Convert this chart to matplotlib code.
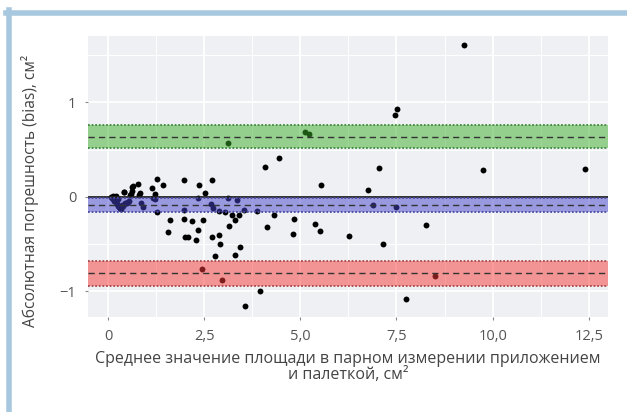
import matplotlib
matplotlib.use("Agg")
import matplotlib.pyplot as plt
from matplotlib.lines import Line2D

# mean of paired measurement (x) and bias (y)
mean_area = [
    9.25, 7.52, 7.47, 5.13, 5.22, 3.13, 4.44, 4.07, 7.05, 9.75, 12.40,
    5.55, 6.76, 6.90, 7.50, 5.37, 5.50, 6.26, 7.16, 8.28, 8.51, 7.75,
    4.84, 4.80, 4.31, 4.13, 3.87, 3.94, 3.56, 3.53, 3.42, 3.41, 3.29,
    3.30, 3.22, 3.14, 3.12, 3.36, 3.04, 2.88, 2.88, 2.90, 2.97, 2.77,
    2.70, 2.70, 2.68, 2.72, 2.52, 2.46, 2.44, 2.37, 2.34, 2.34, 2.30,
    2.18, 2.07, 2.00, 1.97, 1.97, 1.97, 1.62, 1.55, 1.44, 1.27, 1.27,
    1.23, 1.21, 1.15, 1.17, 0.92, 0.87, 0.83, 0.79, 0.80, 0.65, 0.62,
    0.57, 0.41, 0.42, 0.53, 0.48, 0.40, 0.31, 0.61, 0.63,
    0.08, 0.10, 0.12, 0.14, 0.16, 0.18, 0.20, 0.22, 0.24, 0.26, 0.28,
    0.30, 0.33, 0.35, 0.37, 0.45, 0.50, 0.55, 0.15, 0.20, 0.25,
]
bias = [
    1.60, 0.93, 0.86, 0.69, 0.66, 0.57, 0.41, 0.32, 0.31, 0.28, 0.29,
    0.13, 0.07, -0.09, -0.11, -0.29, -0.36, -0.41, -0.50, -0.30, -0.84, -1.08,
    -0.23, -0.39, -0.19, -0.32, -0.15, -0.99, -1.15, -0.14, -0.53, -0.19, -0.61,
    -0.25, -0.19, -0.31, -0.01, -0.03, -0.16, -0.15, -0.40, -0.50, -0.88, -0.63,
    -0.42, 0.18, -0.08, -0.12, 0.04, -0.24, -0.76, 0.12, -0.01, -0.35, -0.46,
    -0.26, -0.42, -0.42, -0.14, 0.18, -0.23, -0.25, -0.37, 0.12, 0.19, -0.16,
    0.03, -0.02, 0.09, -0.01, -0.11, -0.07, 0.04, 0.14, 0.02, 0.11, 0.06,
    0.02, 0.05, 0.05, -0.05, -0.07, -0.10, -0.12, 0.03, 0.10,
    0.00, -0.01, 0.01, -0.02, 0.00, -0.03, -0.05, -0.04, -0.08, -0.10, -0.11,
    -0.12, -0.10, -0.13, -0.09, -0.07, -0.06, -0.04, -0.04, 0.01, -0.02,
]

# limits of agreement: (centre, lower, upper, fill, edge)
bands = [
    (0.637, 0.513, 0.757, "#3cb02b", "#3f8a3a"),
    (-0.09, -0.165, -0.01, "#4644cd", "#4a4aa0"),
    (-0.807, -0.938, -0.683, "#f83a37", "#a84848"),
]

x_ticks = [0, 2.5, 5.0, 7.5, 10.0, 12.5]
x_tick_labels = ["0", "2,5", "5,0", "7,5", "10,0", "12,5"]
y_ticks = [-1, 0, 1]
y_tick_labels = ["\u22121", "0", "1"]

plt.rcParams["font.family"] = ["Open Sans", "DejaVu Sans"]

fig = plt.figure(figsize=(6.27, 4.12), dpi=100)
ax = fig.add_axes([0.1404, 0.2306, 0.8293, 0.682])
ax.set_facecolor("#eef0f3")
for s in ax.spines.values():
    s.set_visible(False)

ax.set_xlim(-0.52, 13.0)
ax.set_ylim(-1.27, 1.70)

ax.set_xticks(x_ticks)
ax.set_xticklabels(x_tick_labels)
ax.set_xticks([1.25, 3.75, 6.25, 8.75, 11.25], minor=True)
ax.set_yticks(y_ticks)
ax.set_yticklabels(y_tick_labels)
ax.set_yticks([-0.5, 0.5, 1.5], minor=True)
ax.grid(True, which="major", color="white", lw=1.3)
ax.grid(True, which="minor", color="white", lw=0.7)
ax.set_axisbelow(True)
ax.tick_params(which="major", length=2.5, width=0.8, color="#888888",
               labelsize=10.5, labelcolor="#555555", pad=6)
ax.tick_params(which="minor", length=0)

ax.scatter(mean_area, bias, s=18, color="black", zorder=2, linewidths=0)

ax.axhline(0, color="#222222", lw=1.3, zorder=3)
for mid, lo, hi, fill, edge in bands:
    ax.axhspan(lo, hi, color=fill, alpha=0.5, lw=0, zorder=4)
    ax.axhline(lo, color=edge, lw=1.3, ls=(0, (1, 1)), zorder=5)
    ax.axhline(hi, color=edge, lw=1.3, ls=(0, (1, 1)), zorder=5)
    ax.axhline(mid, color="#333333", lw=1.0, ls=(0, (4.5, 3)), zorder=5)

ax.set_xlabel("Среднее значение площади в парном измерении приложением\n"
              "и палеткой, см\u00b2", fontsize=11.5, color="#444444",
              labelpad=5, linespacing=1.05)
ax.set_ylabel("Абсолютная погрешность (bias), см\u00b2", fontsize=11.2,
              color="#444444")
ax.yaxis.set_label_coords(-0.095, 0.45)

# light blue frame at top and left
fig.add_artist(Line2D([6 / 627, 1.0], [1 - 12.5 / 412, 1 - 12.5 / 412],
                      transform=fig.transFigure, color="#a8c8e0", lw=4))
fig.add_artist(Line2D([8.5 / 627, 8.5 / 627], [0, 1 - 10 / 412],
                      transform=fig.transFigure, color="#a8c8e0", lw=4))

fig.savefig("out.png", dpi=100)
